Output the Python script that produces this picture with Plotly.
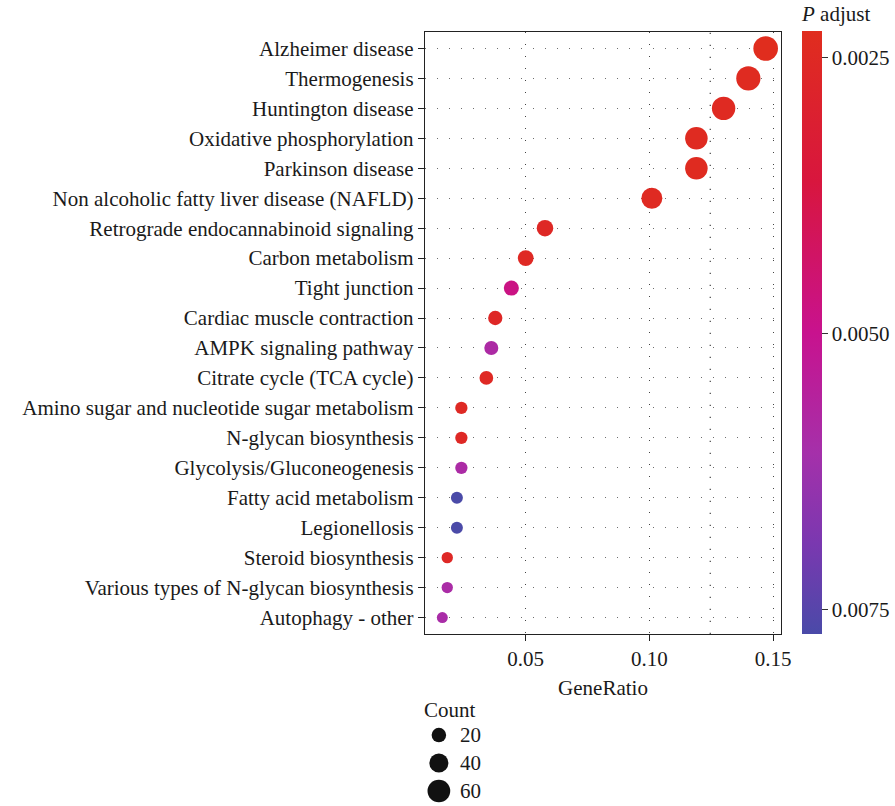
import plotly.graph_objects as go

# KEGG pathway enrichment results (top to bottom)
pathways = [
    "Alzheimer disease",
    "Thermogenesis",
    "Huntington disease",
    "Oxidative phosphorylation",
    "Parkinson disease",
    "Non alcoholic fatty liver disease (NAFLD)",
    "Retrograde endocannabinoid signaling",
    "Carbon metabolism",
    "Tight junction",
    "Cardiac muscle contraction",
    "AMPK signaling pathway",
    "Citrate cycle (TCA cycle)",
    "Amino sugar and nucleotide sugar metabolism",
    "N-glycan biosynthesis",
    "Glycolysis/Gluconeogenesis",
    "Fatty acid metabolism",
    "Legionellosis",
    "Steroid biosynthesis",
    "Various types of N-glycan biosynthesis",
    "Autophagy - other",
]
gene_ratio = [0.147, 0.140, 0.130, 0.119, 0.119, 0.101, 0.0578, 0.0500, 0.0442, 0.0377,
              0.0361, 0.0341, 0.0240, 0.0240, 0.0240, 0.0222, 0.0222, 0.0183, 0.0183, 0.0163]
counts = [72, 69, 64, 59, 59, 50, 28, 25, 22, 19, 18, 17, 12, 12, 12, 11, 11, 9, 9, 8]
p_adjust = [0.00226, 0.00240, 0.00245, 0.00238, 0.00236, 0.00242, 0.00255, 0.00250, 0.00480,
            0.00262, 0.00585, 0.00250, 0.00252, 0.00255, 0.00590, 0.00772, 0.00770, 0.00258,
            0.00592, 0.00595]

size_legend_counts = [20, 40, 60]
p_ticks = [0.0025, 0.0050, 0.0075]

FONT = "Liberation Serif"
FS = 21
TXT = "#1a1a1a"


def dot_size(c):
    # area grows linearly with gene count
    return (60 + 7.6 * c) ** 0.5


# colour on -p so that the smallest p-value sits at the top of the colorbar
neg_p = [-v for v in p_adjust]
cscale = [
    [0.0, "#4A4AA8"],
    [0.15, "#7A38B0"],
    [0.3, "#A530AA"],
    [0.5, "#C8128E"],
    [0.75, "#D8163E"],
    [1.0, "#E02D1E"],
]

PLOT_TOP, PLOT_BOTTOM, PAPER_BOTTOM = 32, 634, 796
PAPER_H = PAPER_BOTTOM - PLOT_TOP
TITLE_H = 30

fig = go.Figure()

fig.add_trace(go.Scatter(
    x=gene_ratio, y=pathways, mode="markers",
    marker=dict(
        size=[dot_size(c) for c in counts],
        color=neg_p, colorscale=cscale,
        cmin=-max(p_adjust), cmax=-min(p_adjust),
        line=dict(width=0), opacity=1,
        colorbar=dict(
            title=dict(text="<i>P</i> adjust", side="top",
                       font=dict(family=FONT, size=FS, color=TXT)),
            tickvals=[-t for t in p_ticks],
            ticktext=[f"{t:.4f}" for t in p_ticks],
            tickfont=dict(family=FONT, size=FS, color=TXT),
            ticks="outside", ticklen=6, tickcolor="#333",
            thickness=20, outlinewidth=0,
            lenmode="fraction", len=(PLOT_BOTTOM - PLOT_TOP + TITLE_H) / PAPER_H,
            y=1 + TITLE_H / PAPER_H, yanchor="top", x=1.059, xanchor="left",
            xpad=0, ypad=0,
        ),
    ),
    showlegend=False, cliponaxis=False,
))

# size key (Count)
key_rows = list(range(len(size_legend_counts)))
fig.add_trace(go.Scatter(
    x=[0.13] * len(size_legend_counts), y=key_rows, mode="markers",
    marker=dict(size=[dot_size(c) for c in size_legend_counts], color="#111111",
                line=dict(width=0), opacity=1),
    xaxis="x2", yaxis="y2", showlegend=False, hoverinfo="skip", cliponaxis=False,
))

annotations = [
    dict(x=0.31, y=r, xref="x2", yref="y2", text=str(c), showarrow=False,
         xanchor="left", yanchor="middle", font=dict(family=FONT, size=FS, color=TXT))
    for r, c in zip(key_rows, size_legend_counts)
]
annotations.append(dict(x=0.23, y=-0.893, xref="x2", yref="y2", text="Count",
                        showarrow=False, xanchor="center", yanchor="middle",
                        font=dict(family=FONT, size=FS, color=TXT)))

DOTS = "1.3px,10.7px"

fig.update_layout(
    width=895, height=806,
    margin=dict(l=425, r=114, t=PLOT_TOP, b=806 - PAPER_BOTTOM, autoexpand=False),
    paper_bgcolor="white", plot_bgcolor="white",
    font=dict(family=FONT, size=FS, color=TXT),
    xaxis=dict(
        domain=[0, 1], range=[0.0093, 0.1532],
        tickvals=[0.05, 0.10, 0.15], ticktext=["0.05", "0.10", "0.15"],
        ticks="outside", ticklen=6, tickcolor="#222", tickwidth=1,
        showline=True, linecolor="#222", linewidth=1.4, mirror=True,
        showgrid=True, gridcolor="#444444", gridwidth=1.2, griddash=DOTS,
        zeroline=False,
        title=dict(text="GeneRatio", standoff=9, font=dict(family=FONT, size=FS, color=TXT)),
        tickfont=dict(family=FONT, size=FS, color=TXT),
        automargin=False,
    ),
    yaxis=dict(
        domain=[(PAPER_BOTTOM - PLOT_BOTTOM) / PAPER_H, 1],
        categoryorder="array", categoryarray=pathways[::-1],
        range=[-0.55, len(pathways) - 0.45],
        ticks="outside", ticklen=6, tickcolor="#222", tickwidth=1,
        showline=True, linecolor="#222", linewidth=1.4, mirror=True,
        showgrid=True, gridcolor="#6e6e6e", gridwidth=1.2, griddash=DOTS,
        zeroline=False,
        tickfont=dict(family=FONT, size=FS, color=TXT),
        automargin=False,
    ),
    xaxis2=dict(domain=[0, 0.3], range=[0, 1], anchor="y2", visible=False, fixedrange=True),
    yaxis2=dict(domain=[0, 0.17], range=[2.179, -2.464], anchor="x2", visible=False,
                fixedrange=True),
    shapes=[dict(type="line", xref="x", yref="y domain", x0=0.1246, x1=0.1246, y0=0, y1=1,
                 line=dict(color="#444444", width=1.2, dash=DOTS), layer="below")],
    annotations=annotations,
)

fig.write_html("out.html")
